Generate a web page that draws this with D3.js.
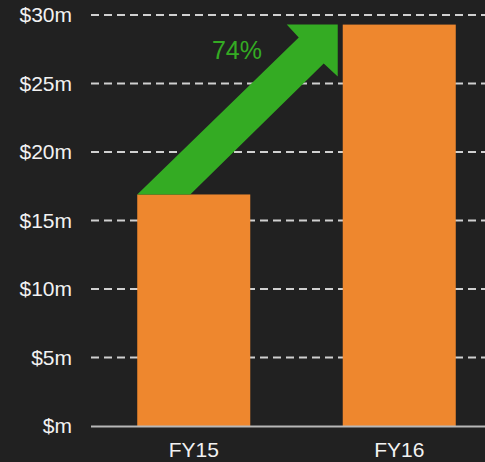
<!DOCTYPE html>
<html>
<head>
<meta charset="utf-8">
<script src="https://cdn.jsdelivr.net/npm/d3@7"></script>
<style>
  html, body { margin: 0; padding: 0; background: #212121; }
  #chart { width: 485px; height: 462px; }
  text { font-family: "Liberation Sans", Arial, sans-serif; }
</style>
</head>
<body>
<div id="chart"></div>
<script>
const categories = ["FY15", "FY16"];
const revenue = [16.9, 29.3];           // $m
const yTicks = [0, 5, 10, 15, 20, 25, 30];
const growthLabel = "74%";

function renderChart() {
  const container = d3.select("#chart");
  const width = 485, height = 462;
  const margin = { top: 15, right: -17, bottom: 36, left: 91 };
  const innerW = width - margin.left - margin.right;
  const innerH = height - margin.top - margin.bottom;

  const svg = container.append("svg").attr("width", width).attr("height", height);
  svg.append("rect").attr("width", width).attr("height", height).attr("fill", "#212121");

  const g = svg.append("g").attr("transform", `translate(${margin.left},${margin.top})`);

  const x = d3.scaleBand()
    .domain(categories)
    .range([0, innerW])
    .paddingInner(0.45)
    .paddingOuter(0.225);

  const y = d3.scaleLinear().domain([0, 30]).range([innerH, 0]);

  // gridlines
  g.selectAll(".grid")
    .data(yTicks.filter(d => d > 0))
    .enter()
    .append("line")
    .attr("x1", 0)
    .attr("x2", width - margin.left)
    .attr("y1", d => y(d))
    .attr("y2", d => y(d))
    .attr("stroke", "#d0d0d0")
    .attr("stroke-width", 2)
    .attr("stroke-dasharray", "8,5");

  // y labels
  g.selectAll(".ylab")
    .data(yTicks)
    .enter()
    .append("text")
    .attr("x", -19)
    .attr("y", d => y(d))
    .attr("dy", "0.35em")
    .attr("text-anchor", "end")
    .attr("fill", "#f2f2f2")
    .attr("font-size", 21)
    .text(d => d === 0 ? "$m" : `$${d}m`);

  // bars
  g.selectAll(".bar")
    .data(categories)
    .enter()
    .append("rect")
    .attr("x", d => x(d))
    .attr("y", (d, i) => y(revenue[i]))
    .attr("width", x.bandwidth())
    .attr("height", (d, i) => innerH - y(revenue[i]))
    .attr("fill", "#ee872e");

  // baseline
  g.append("line")
    .attr("x1", 0)
    .attr("x2", width - margin.left)
    .attr("y1", innerH + 0.5)
    .attr("y2", innerH + 0.5)
    .attr("stroke", "#b8b8b8")
    .attr("stroke-width", 2);

  // x labels
  g.selectAll(".xlab")
    .data(categories)
    .enter()
    .append("text")
    .attr("x", d => x(d) + x.bandwidth() / 2)
    .attr("y", innerH + 31)
    .attr("text-anchor", "middle")
    .attr("fill", "#f2f2f2")
    .attr("font-size", 21)
    .text(d => d);

  // growth arrow
  const x0 = x(categories[0]), y0 = y(revenue[0]);
  const tx = x(categories[1]) - 5, ty = y(revenue[1]);
  const pts = [
    [x0, y0],
    [tx - 39, ty + 13],
    [tx - 51, ty],
    [tx, ty],
    [tx, ty + 52],
    [tx - 14, ty + 39],
    [x0 + 53, y0]
  ];
  g.append("polygon")
    .attr("points", pts.map(p => p.join(",")).join(" "))
    .attr("fill", "#34ab23");

  g.append("text")
    .attr("x", 146)
    .attr("y", 44)
    .attr("text-anchor", "middle")
    .attr("fill", "#34ab23")
    .attr("font-size", 25)
    .text(growthLabel);
}

renderChart();
</script>
</body>
</html>
